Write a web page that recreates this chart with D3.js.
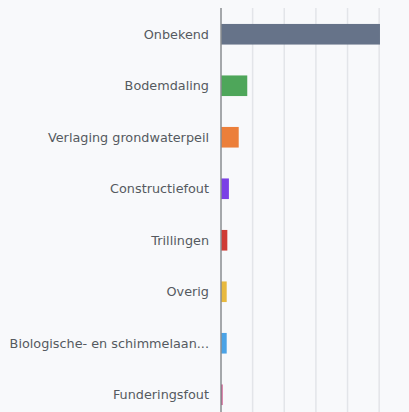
<!DOCTYPE html>
<html>
<head>
<meta charset="utf-8">
<script src="https://cdn.jsdelivr.net/npm/d3@7"></script>
<style>
html, body { margin: 0; padding: 0; background: #f8f9fb; }
svg { display: block; }
</style>
</head>
<body>
<div id="chart"></div>
<script>
const categories = ["Onbekend", "Bodemdaling", "Verlaging grondwaterpeil", "Constructiefout", "Trillingen", "Overig", "Biologische- en schimmelaan...", "Funderingsfout"];
const values = [100.5, 16.6, 11.2, 5, 4, 3.6, 3.6, 1];
const colors = ["#667389", "#4ea65a", "#ec7f3a", "#7b40e6", "#cf3b35", "#e8b93e", "#4ba3e6", "#c8397a"];
const tickValues = [0, 20, 40, 60, 80, 100];

const W = 409, H = 412;
const svg = d3.select("#chart").append("svg").attr("width", W).attr("height", H);

const x = d3.scaleLinear().domain([0, 110]).range([221, 395]);
const y = d3.scaleBand().domain(categories).range([8.5, 420.5]).paddingInner(0.6).paddingOuter(0.3);

// gridlines
svg.append("g").selectAll("line").data(tickValues.slice(1)).join("line")
  .attr("x1", d => x(d)).attr("x2", d => x(d))
  .attr("y1", 8).attr("y2", H)
  .attr("stroke", "#e3e5e9").attr("stroke-width", 1.5);

// bars
svg.append("g").selectAll("rect").data(categories).join("rect")
  .attr("x", x(0))
  .attr("y", d => y(d))
  .attr("width", (d, i) => x(values[i]) - x(0))
  .attr("height", y.bandwidth())
  .attr("fill", (d, i) => colors[i]);

// y axis line
svg.append("line").attr("x1", x(0)).attr("x2", x(0)).attr("y1", 8).attr("y2", H)
  .attr("stroke", "#8a8c90").attr("stroke-width", 1.5);

// labels
svg.append("g").selectAll("text").data(categories).join("text")
  .attr("x", 209)
  .attr("y", d => y(d) + y.bandwidth() / 2)
  .attr("dy", "0.35em")
  .attr("text-anchor", "end")
  .attr("font-family", "DejaVu Sans, sans-serif")
  .attr("font-size", 12.8)
  .attr("fill", "#555a60")
  .text(d => d);
</script>
</body>
</html>
